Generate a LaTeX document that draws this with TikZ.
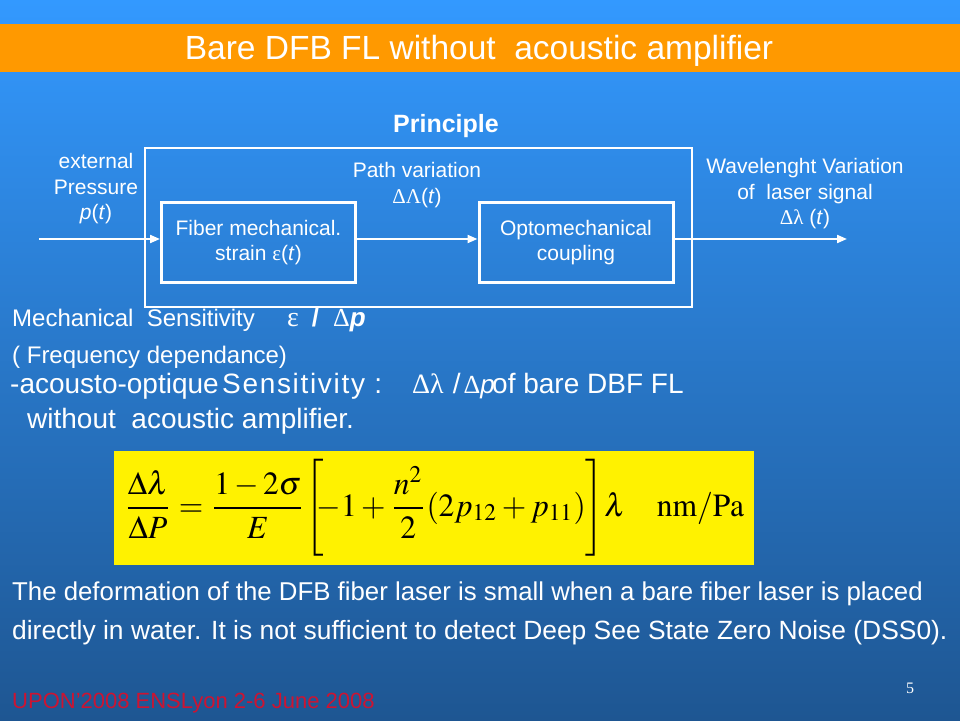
\documentclass[tikz,border=0pt]{standalone}
\usepackage{mathptmx}
\usepackage{graphicx}
\usepackage[no-math]{fontspec}
\setmainfont{Liberation Sans}
\newfontfamily\symf{Liberation Serif}
\usetikzlibrary{arrows.meta}
\definecolor{bgtop}{RGB}{51,153,255}
\definecolor{bgbot}{RGB}{30,86,146}
\definecolor{titleor}{RGB}{255,153,0}
\definecolor{footred}{RGB}{204,20,50}
\newcommand\myfs[2]{\fontsize{#1}{#2}\selectfont}
\begin{document}
\begin{tikzpicture}[x=1pt,y=-1pt,
  lbl/.style={text=white,inner sep=0pt,align=center,font=\myfs{21}{25.5}},
  txt/.style={text=white,inner sep=0pt,anchor=base west},
  blk/.style={draw=white,line width=3pt,minimum width=194pt,minimum height=80pt,
    inner sep=0pt,align=center,text=white,font=\myfs{21}{25}},
  arr/.style={draw=white,line width=2pt,-{Triangle[length=10pt,width=8pt]}}]
\shade[top color=bgtop,bottom color=bgbot] (0,0) rectangle (960,720);
\useasboundingbox (0,0) rectangle (960,720);
% title
\fill[titleor] (0,24) rectangle (960,72);
\node[text=white,inner sep=0pt,anchor=base,font=\myfs{33.5}{33.5}] (title) at (479,59)
  {Bare DFB FL without\ \ acoustic amplifier};
\node[text=white,inner sep=0pt,anchor=base,font=\bfseries\myfs{25}{25}] (princ) at (446,132) {Principle};
% diagram
\node[draw=white,line width=1.2pt,minimum width=547pt,minimum height=159pt,inner sep=0pt] (frame) at (418.5,227.5) {};
\node[blk] (fiber) at (258.5,242.5) {Fiber mechanical.\\strain {\symf ε}(\textit{t})};
\node[blk] (opto) at (576,242.5) {Optomechanical\\coupling};
\coordinate (in) at (39,239);
\coordinate (out) at (847,239);
\coordinate (mid) at (416,239);
\draw[arr] (in) -- (in -| fiber.west);
\draw[arr] (mid -| fiber.east) -- (mid -| opto.west);
\draw[arr] (out -| opto.east) -- (out);
\node[lbl] (press) at (96,189) {external\\Pressure\\\textit{p}(\textit{t})};
\node[lbl] (path) at (417,185) {Path variation\\{\symf ΔΛ}(\textit{t})};
\node[lbl] (wave) at (805,194) {Wavelenght Variation\\of\ \ laser signal\\{\symf Δλ} (\textit{t})};
% text lines
\node[txt,font=\myfs{24}{24}] (l1) at (12,326) {Mechanical\ \ Sensitivity};
\node[txt,font=\myfs{26}{26}] (l1b) at (287,326) {{\symf\myfs{28}{28}ε}\hspace{13pt}\textbf{/}\hspace{14pt}{\symf Δ}\textbf{\textit{p}}};
\node[txt,font=\myfs{24}{24}] (l2) at (12,363) {( Frequency dependance)};
\node[txt,font=\myfs{28}{28}] (l3a) at (10,393) {-acousto-optique};
\node[txt,font=\myfs{28}{28}\addfontfeature{LetterSpace=6}] (l3b) at (222,393) {Sensitivity :};
\node[txt,font=\myfs{28}{28}] (l3c) at (412,393) {{\symf Δλ}\hspace{9pt}/\hspace{3pt}{\myfs{26}{26}{\symf Δ}\textit{p}}};
\node[txt,font=\myfs{28}{28}] (l3d) at (492,393) {of bare DBF FL};
\node[txt,font=\myfs{28}{28}] (l4) at (27,428) {without\ \ acoustic amplifier.};
% formula
\node[fill=yellow,inner xsep=9.5pt,inner ysep=8.5pt] (formula) at (434,508)
  {\resizebox*{620pt}{97pt}{$\displaystyle \frac{\Delta\lambda}{\Delta P}=\frac{1-2\sigma}{E}\!\left[\vrule height 17pt depth 12pt width 0pt\!\! -1+\frac{n^{2}}{2}(2p_{12}+p_{11})\right]\!\lambda\quad\mathrm{nm/Pa}$}};
% bottom text
\node[txt,font=\myfs{25.8}{25.8}] (b1) at (12,600) {The deformation of the DFB fiber laser is small when a bare fiber laser is placed};
\node[txt,font=\myfs{26.4}{26.4}] (b2) at (12,639) {directly in water. It is not sufficient to detect Deep See State Zero Noise (DSS0).};
\node[txt,text=footred,font=\myfs{22}{22}] (foot) at (12,708) {UPON'2008 ENSLyon 2-6 June 2008};
\node[txt,font=\symf\myfs{16}{16}] (page) at (906,693) {5};
\end{tikzpicture}
\end{document}
